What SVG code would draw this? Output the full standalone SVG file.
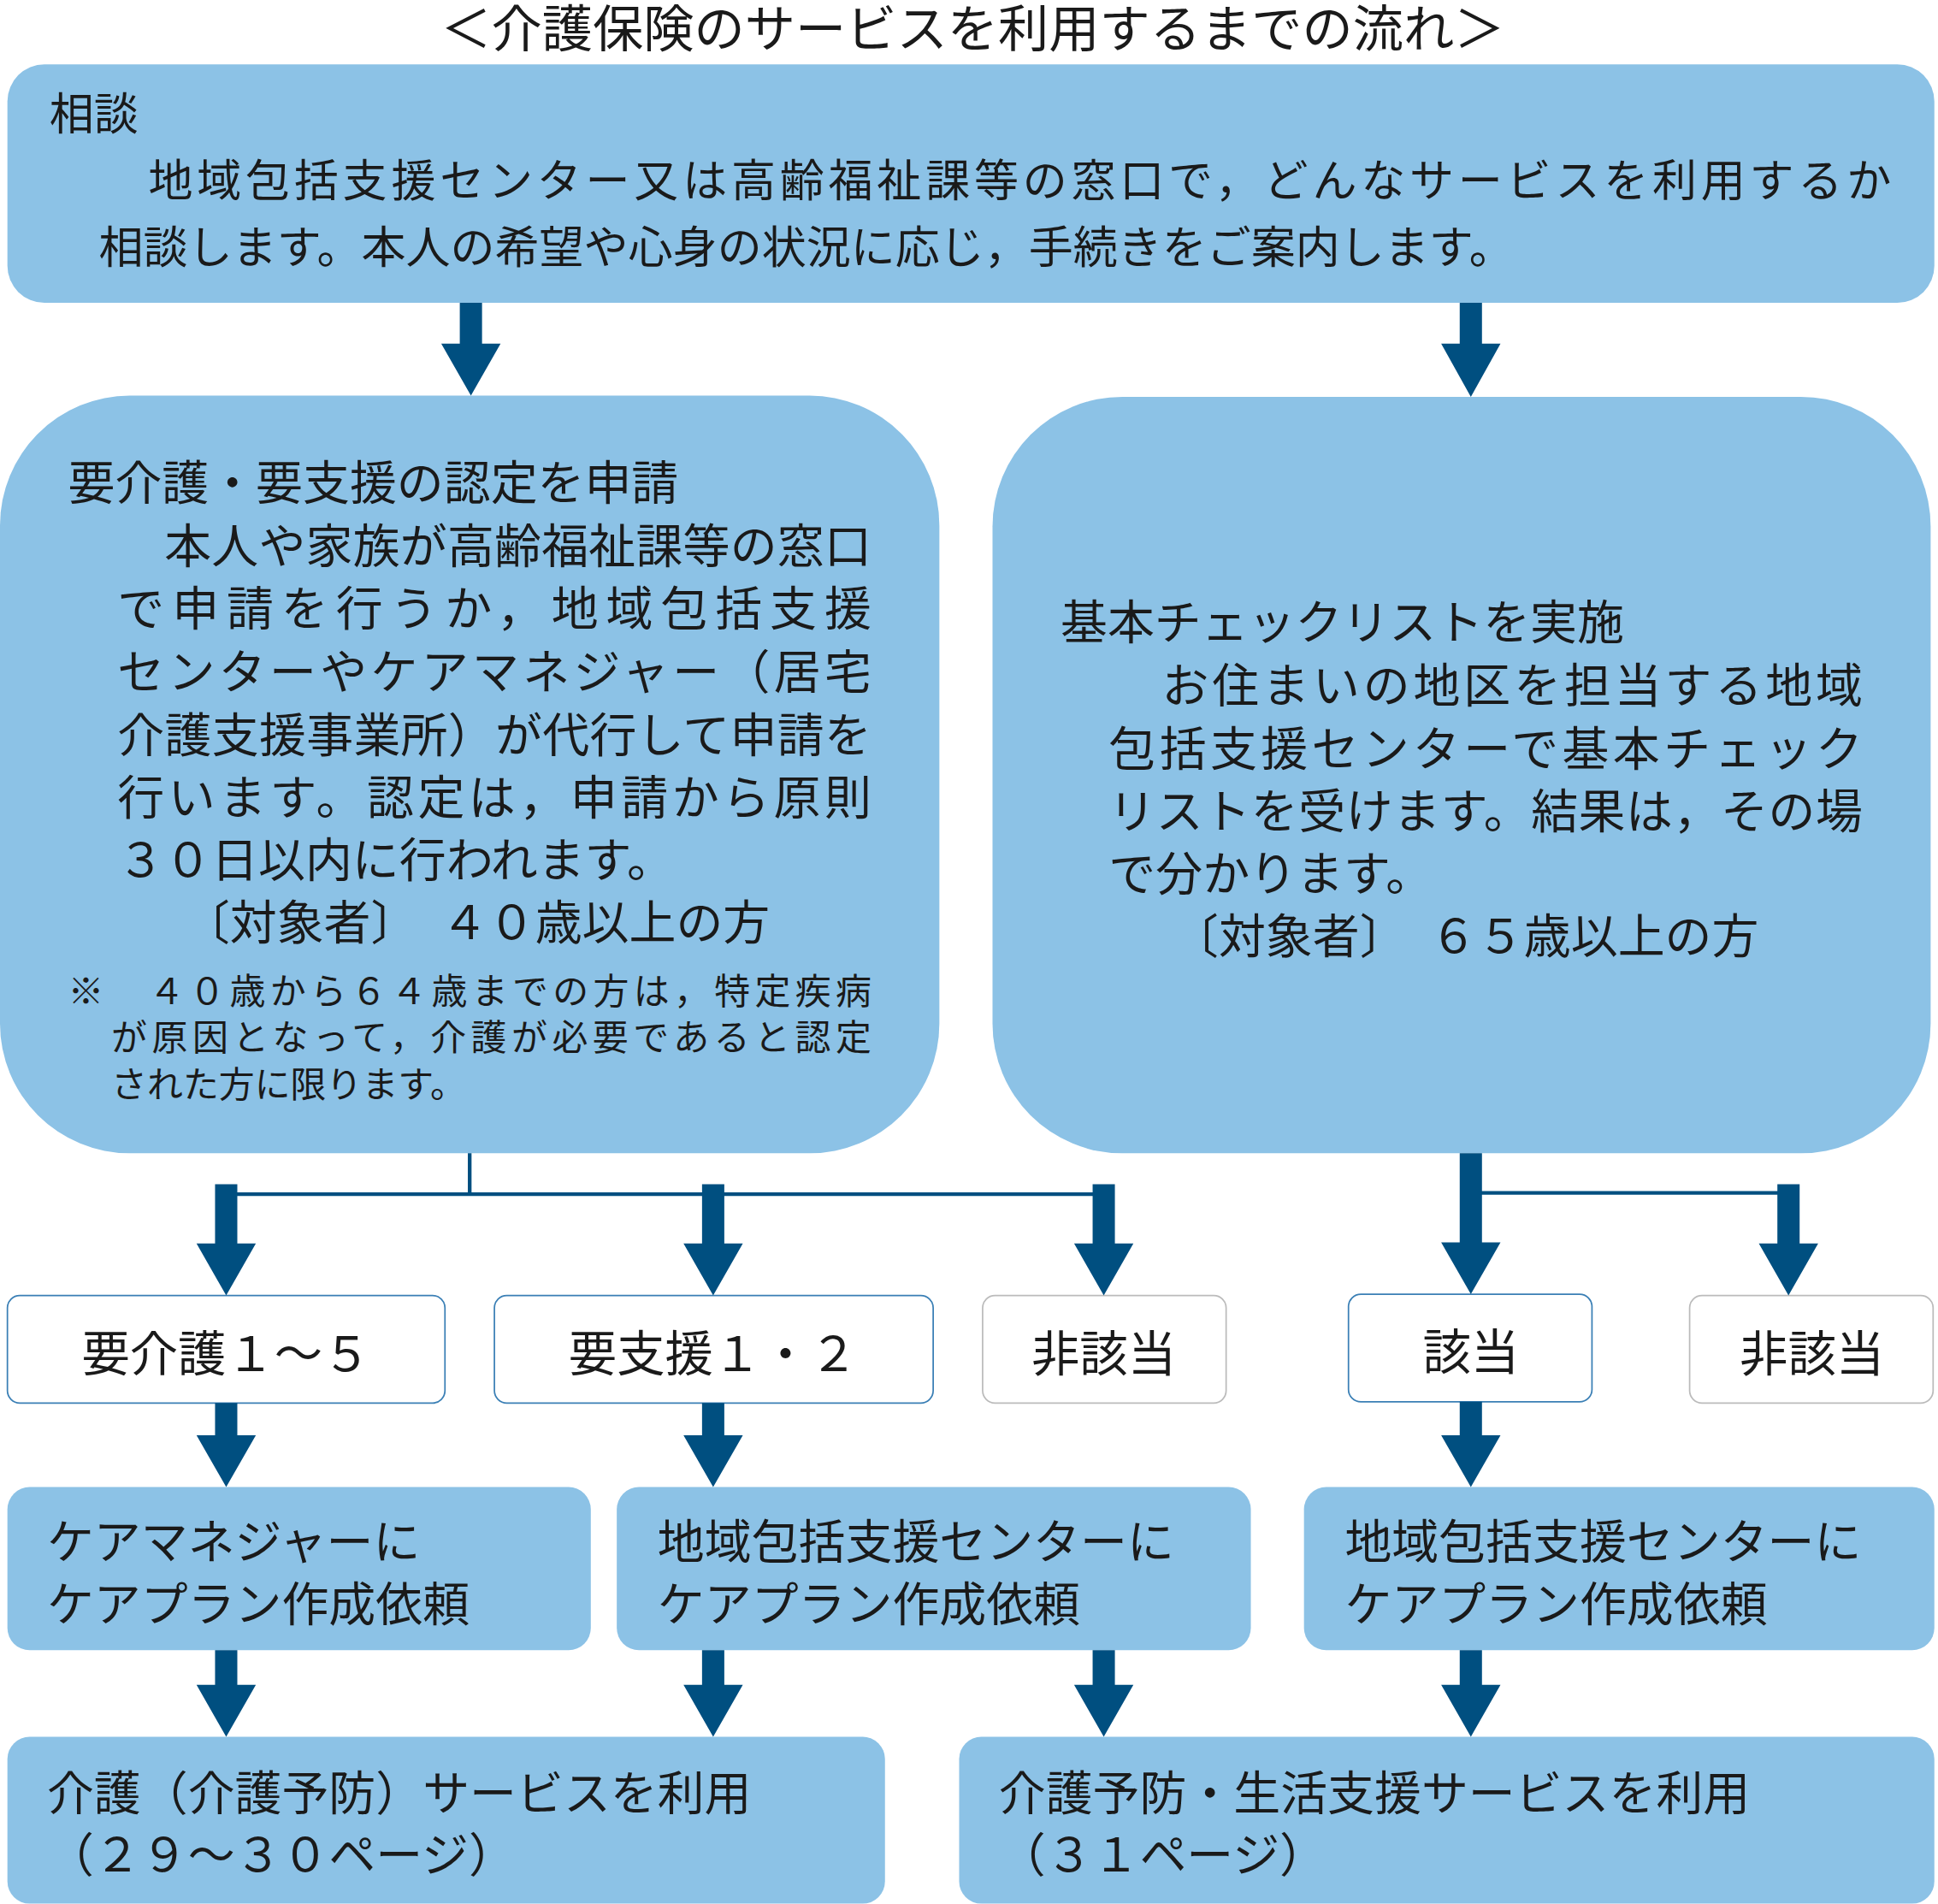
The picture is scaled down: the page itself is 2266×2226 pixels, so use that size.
<svg xmlns="http://www.w3.org/2000/svg" width="2266" height="2226" viewBox="0 0 2266 2226">
<style>
.b{fill:#8cc2e6}
.w{fill:#fff;stroke:#3a7fb5;stroke-width:1.2}
.t{font-family:"Noto Sans CJK JP","Noto Sans",sans-serif;fill:#1a1a1a}
.a{fill:#004f80}
.l{stroke:#004f80;fill:none}
</style>
<rect width="2266" height="2226" fill="#fff"/>
<g transform="scale(1.4452)">
<text class="t" x="787" y="38" font-size="41" text-anchor="middle">＜介護保険のサービスを利用するまでの流れ＞</text>
<g id="n-soudan">
<rect class="b" x="6" y="52" width="1559" height="193" rx="30"/>
<text class="t" font-size="36" x="40" y="105">相談</text>
<text class="t" font-size="36" x="120" y="159" textLength="1410" lengthAdjust="spacing">地域包括支援センター又は高齢福祉課等の窓口で，どんなサービスを利用するか</text>
<text class="t" font-size="36" x="80" y="213">相談します。本人の希望や心身の状況に応じ，手続きをご案内します。</text>
</g>
<g id="n-shinsei">
<rect class="b" x="0" y="320" width="760" height="613" rx="105"/>
<g class="t" font-size="38">
<text x="55" y="404">要介護・要支援の認定を申請</text>
<text x="133" y="455" textLength="572" lengthAdjust="spacing">本人や家族が高齢福祉課等の窓口</text>
<text x="95" y="506" textLength="610" lengthAdjust="spacing">で申請を行うか，地域包括支援</text>
<text x="95" y="557" textLength="610" lengthAdjust="spacing">センターやケアマネジャー（居宅</text>
<text x="95" y="608" textLength="610" lengthAdjust="spacing">介護支援事業所）が代行して申請を</text>
<text x="95" y="659" textLength="610" lengthAdjust="spacing">行います。認定は，申請から原則</text>
<text x="95" y="709">３０日以内に行われます。</text>
<text x="148" y="760">〔対象者〕　４０歳以上の方</text>
</g>
<g class="t" font-size="29">
<text x="55" y="812" textLength="650" lengthAdjust="spacing">※　４０歳から６４歳までの方は，特定疾病</text>
<text x="90" y="850" textLength="615" lengthAdjust="spacing">が原因となって，介護が必要であると認定</text>
<text x="90" y="888">された方に限ります。</text>
</g>
</g>
<g id="n-check">
<rect class="b" x="803" y="321" width="759" height="612" rx="105"/>
<g class="t" font-size="38">
<text x="858" y="517">基本チェックリストを実施</text>
<text x="940" y="568" textLength="567" lengthAdjust="spacing">お住まいの地区を担当する地域</text>
<text x="897" y="619" textLength="610" lengthAdjust="spacing">包括支援センターで基本チェック</text>
<text x="897" y="670" textLength="610" lengthAdjust="spacing">リストを受けます。結果は，その場</text>
<text x="897" y="720">で分かります。</text>
<text x="948" y="771">〔対象者〕　６５歳以上の方</text>
</g>
</g>
<g id="n-kaigo"><rect class="w" x="6" y="1048" width="354" height="87" rx="10"/><text class="t" font-size="39" x="183" y="1109" text-anchor="middle">要介護１～５</text></g>
<g id="n-shien"><rect class="w" x="400" y="1048" width="355" height="87" rx="10"/><text class="t" font-size="39" x="577" y="1109" text-anchor="middle">要支援１・２</text></g>
<g id="n-hi1"><rect class="w" x="795" y="1048" width="197" height="87" rx="10" style="stroke:#bbb"/><text class="t" font-size="39" x="893" y="1109" text-anchor="middle">非該当</text></g>
<g id="n-gai"><rect class="w" x="1091" y="1047" width="197" height="87" rx="10"/><text class="t" font-size="39" x="1190" y="1108" text-anchor="middle">該当</text></g>
<g id="n-hi2"><rect class="w" x="1367" y="1048" width="197" height="87" rx="10" style="stroke:#bbb"/><text class="t" font-size="39" x="1466" y="1109" text-anchor="middle">非該当</text></g>
<g id="n-cm"><rect class="b" x="6" y="1203" width="472" height="132" rx="18"/><text class="t" font-size="38" x="38" y="1261">ケアマネジャーに</text><text class="t" font-size="38" x="38" y="1311">ケアプラン作成依頼</text></g>
<g id="n-hk1"><rect class="b" x="499" y="1203" width="513" height="132" rx="18"/><text class="t" font-size="38" x="532" y="1261">地域包括支援センターに</text><text class="t" font-size="38" x="532" y="1311">ケアプラン作成依頼</text></g>
<g id="n-hk2"><rect class="b" x="1055" y="1203" width="510" height="132" rx="18"/><text class="t" font-size="38" x="1088" y="1261">地域包括支援センターに</text><text class="t" font-size="38" x="1088" y="1311">ケアプラン作成依頼</text></g>
<g id="n-svc1"><rect class="b" x="6" y="1405" width="710" height="135" rx="18"/><text class="t" font-size="38" x="38" y="1464">介護（介護予防）サービスを利用</text><text class="t" font-size="38" x="38" y="1514">（２９～３０ページ）</text></g>
<g id="n-svc2"><rect class="b" x="776" y="1405" width="789" height="135" rx="18"/><text class="t" font-size="38" x="808" y="1464">介護予防・生活支援サービスを利用</text><text class="t" font-size="38" x="808" y="1514">（３１ページ）</text></g>
<g id="connectors">
<path class="l" stroke-width="3" d="M380 933V965M183 966H893"/>
<path class="l" stroke-width="3" d="M1190 965H1447"/>
<g class="a">
<polygon points="372,245 390,245 390,278 405,278 381,320 357,278 372,278"/>
<polygon points="1181,245 1199,245 1199,278 1214,278 1190,321 1166,278 1181,278"/>
<polygon points="174,958 192,958 192,1006 207,1006 183,1048 159,1006 174,1006"/>
<polygon points="568,958 586,958 586,1006 601,1006 577,1048 553,1006 568,1006"/>
<polygon points="884,958 902,958 902,1006 917,1006 893,1048 869,1006 884,1006"/>
<polygon points="1181,933 1199,933 1199,1005 1214,1005 1190,1047 1166,1005 1181,1005"/>
<polygon points="1438,958 1456,958 1456,1006 1471,1006 1447,1048 1423,1006 1438,1006"/>
<polygon points="174,1135 192,1135 192,1161 207,1161 183,1203 159,1161 174,1161"/>
<polygon points="568,1135 586,1135 586,1161 601,1161 577,1203 553,1161 568,1161"/>
<polygon points="1181,1134 1199,1134 1199,1161 1214,1161 1190,1203 1166,1161 1181,1161"/>
<polygon points="174,1335 192,1335 192,1363 207,1363 183,1405 159,1363 174,1363"/>
<polygon points="568,1335 586,1335 586,1363 601,1363 577,1405 553,1363 568,1363"/>
<polygon points="884,1335 902,1335 902,1363 917,1363 893,1405 869,1363 884,1363"/>
<polygon points="1181,1335 1199,1335 1199,1363 1214,1363 1190,1405 1166,1363 1181,1363"/>
</g>
</g>
</g>
</svg>
